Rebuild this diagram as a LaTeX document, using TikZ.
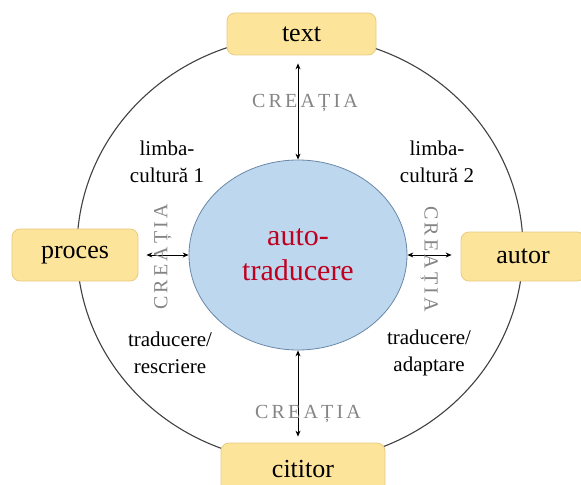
\documentclass[tikz,border=0pt]{standalone}
\usepackage{fontspec}
\setmainfont{Liberation Serif}
\usepackage{tikz}
\usetikzlibrary{shapes.geometric,arrows.meta}
\definecolor{boxfill}{HTML}{FDE49B}
\definecolor{boxline}{HTML}{E9CB80}
\definecolor{blobfill}{HTML}{BDD7EE}
\definecolor{blobline}{HTML}{6A88A8}
\definecolor{redtext}{HTML}{C0001F}
\definecolor{creagray}{HTML}{858585}

\begin{document}
\begin{tikzpicture}[x=1bp, y=-1bp,
	role/.style={draw=boxline, line width=0.8bp, fill=boxfill, rounded corners=8bp,
		font=\fontsize{26bp}{30bp}\selectfont, inner sep=0pt},
	note/.style={align=center, font=\fontsize{21bp}{27bp}\selectfont},
	creatia/.style={text=creagray, inner sep=0pt,
		font=\fontsize{20bp}{22bp}\selectfont\addfontfeature{LetterSpace=16}},
	link/.style={{Stealth[length=6bp,width=5bp]}-{Stealth[length=6bp,width=5bp]}, line width=0.9bp}]
	\useasboundingbox (0,0) rectangle (581,485);
	\node[draw=black!75, line width=1.1bp, ellipse, minimum width=446bp, minimum height=426bp, inner sep=0pt] (ring) at (300,249) {};
	\node[role, minimum width=149bp, minimum height=42bp] (text) at (301.5,34) {text};
	\node[role, minimum width=126bp, minimum height=52bp] (proces) at (75,255) {proces};
	\node[role, minimum width=124bp, minimum height=49bp] (autor) at (523,256.5) {autor};
	\node[role, minimum width=164bp, minimum height=52bp] (cititor) at (303,469) {cititor};
	\node[ellipse, draw=blobline, line width=0.8bp, fill=blobfill, minimum width=218bp, minimum height=190bp,
		inner sep=0pt, align=center, text=redtext, font=\fontsize{30bp}{35bp}\selectfont] (auto) at (298,255) {auto-\\traducere};
	\draw[link, shorten <=8bp] (text.south -| auto.north) -- (auto.north);
	\draw[link, shorten <=8bp] (proces.east |- auto.west) -- (auto.west);
	\draw[link, shorten >=9bp] (auto.east) -- (autor.west |- auto.east);
	\draw[link, shorten >=6bp] (auto.south) -- (cititor.north -| auto.south);
	\node[creatia] (crTop) at (305,103) {CREAȚIA};
	\node[creatia] (crBottom) at (308,414) {CREAȚIA};
	\node[creatia, rotate=90] (crLeft) at (163,257) {CREAȚIA};
	\node[creatia, rotate=-90] (crRight) at (429,259) {CREAȚIA};
	\node[note] (lc1) at (167,162) {limba-\\cultură 1};
	\node[note] (lc2) at (437,162) {limba-\\cultură 2};
	\node[note] (trRe) at (170,353) {traducere/\\rescriere};
	\node[note] (trAd) at (429,353) {traducere/\\adaptare};
\end{tikzpicture}
\end{document}
